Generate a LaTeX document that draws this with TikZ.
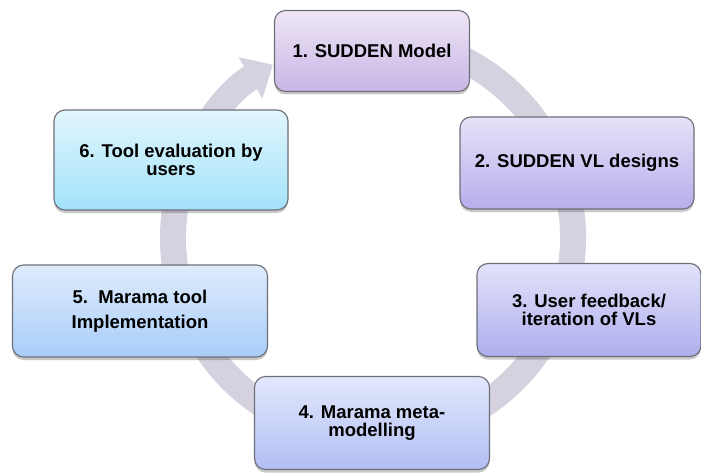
\documentclass[tikz,border=0pt]{standalone}
\usepackage{fontspec}
\setmainfont{Liberation Sans}
\usepackage{xcolor}
\usetikzlibrary{arrows.meta,shadows}

\definecolor{ringcol}{HTML}{D5D1DF}
\definecolor{edgecol}{HTML}{6E6E78}
\definecolor{onetop}{HTML}{EEE6F6}
\definecolor{onebot}{HTML}{C8B6E6}
\definecolor{twotop}{HTML}{E6E2F8}
\definecolor{twobot}{HTML}{B8AEEC}
\definecolor{threetop}{HTML}{E2E2FA}
\definecolor{threebot}{HTML}{AEAEEE}
\definecolor{fourtop}{HTML}{E2E8FC}
\definecolor{fourbot}{HTML}{B2BEF4}
\definecolor{fivetop}{HTML}{DEEBFC}
\definecolor{fivebot}{HTML}{A9CDF8}
\definecolor{sixtop}{HTML}{E2F6FD}
\definecolor{sixbot}{HTML}{A2E2FA}

\begin{document}
\begin{tikzpicture}[x=1pt,y=1pt,
    stage/.style={draw=edgecol, line width=1.1pt, rounded corners=11pt,
        align=center, inner sep=0pt,
        font=\fontsize{18.5}{18.5}\selectfont\bfseries,
        drop shadow={shadow xshift=0pt, shadow yshift=-3pt, opacity=0.3, fill=black!70}},
    ring/.style={line width=26pt, draw=ringcol,
        -{Triangle[width=46pt,length=26pt]}}]
        \useasboundingbox (0,0) rectangle (701,472);

        \coordinate (hub) at (373,234);

        \draw[ring] (hub) ++(75:200) arc[start angle=75, end angle=-240, radius=200];

        \node[stage, minimum width=195pt, minimum height=81pt,
            top color=onetop, bottom color=onebot] (s1) at (372,421)
            {1. SUDDEN Model};
        \node[stage, minimum width=234pt, minimum height=92pt,
            top color=twotop, bottom color=twobot] (s2) at (577,309)
            {2. SUDDEN VL designs};
        \node[stage, minimum width=224pt, minimum height=93pt,
            top color=threetop, bottom color=threebot] (s3) at (589,162)
            {3. User feedback/\\iteration of VLs};
        \node[stage, minimum width=235pt, minimum height=93pt,
            top color=fourtop, bottom color=fourbot] (s4) at (372,49)
            {4. Marama meta-\\modelling};
        \node[stage, minimum width=255pt, minimum height=92pt,
            top color=fivetop, bottom color=fivebot] (s5) at (140,161)
            {5.\ \ Marama tool\\[6pt]Implementation};
        \node[stage, minimum width=234pt, minimum height=100pt,
            top color=sixtop, bottom color=sixbot] (s6) at (171,312)
            {6. Tool evaluation by\\users};
\end{tikzpicture}
\end{document}
